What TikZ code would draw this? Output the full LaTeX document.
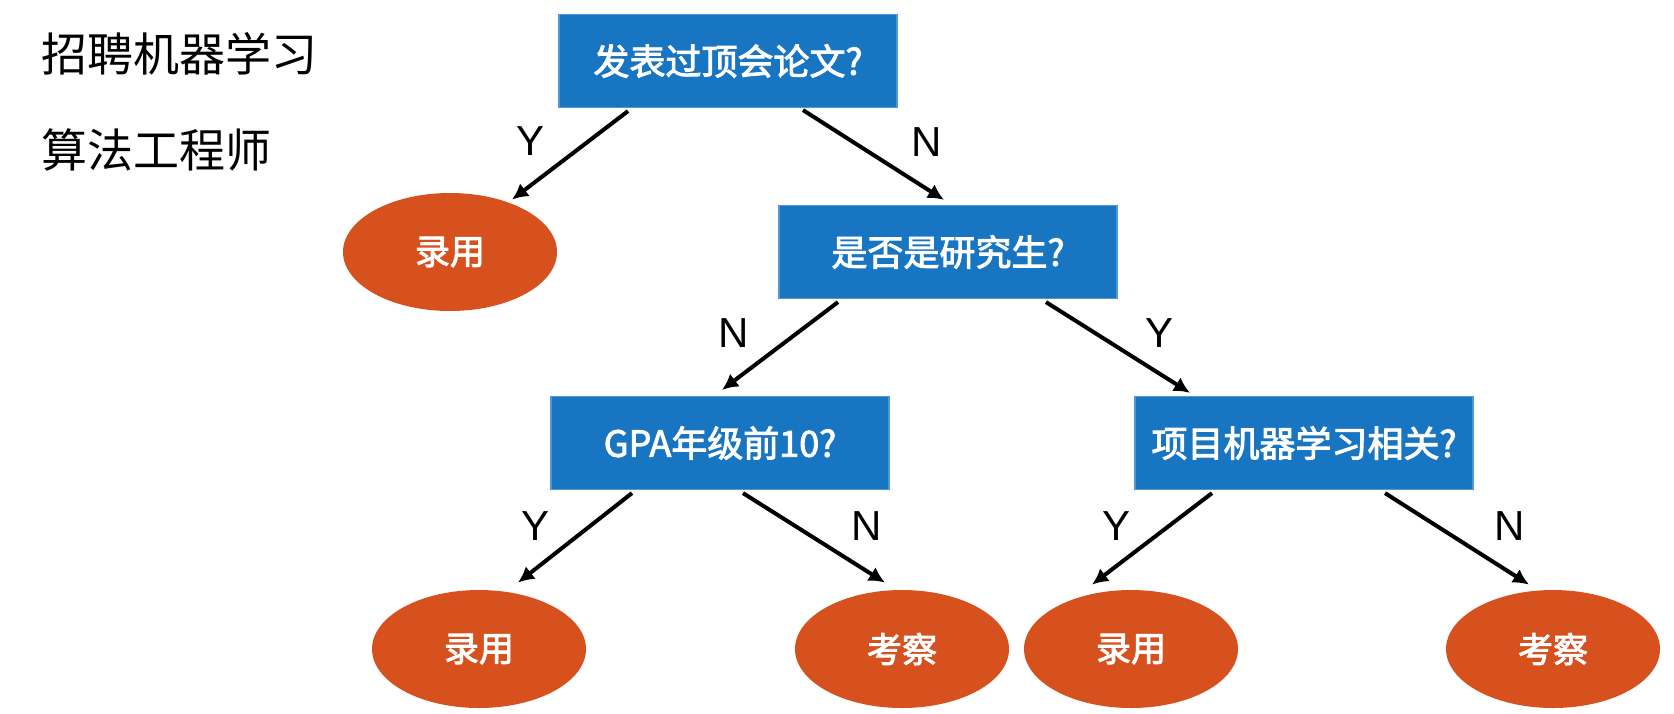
\documentclass[tikz,border=0pt]{standalone}
\usepackage{fontspec}
\setmainfont{Noto Sans CJK SC}
\newfontfamily\boxfont[FakeBold=2.5]{Noto Sans CJK SC}
\newfontfamily\latinfont{Liberation Sans}
\usetikzlibrary{shapes.geometric}
\usetikzlibrary{arrows.meta}
\definecolor{boxblue}{RGB}{24,117,194}
\definecolor{leaforange}{RGB}{215,81,31}

\begin{document}
\begin{tikzpicture}[x=0.5pt,y=-0.5pt,
  question/.style={rectangle, fill=boxblue, draw=boxblue!75!white, line width=0.6pt, minimum width=169pt, minimum height=46.5pt, inner sep=0pt, text=white, font=\boxfont\fontsize{18}{18}\selectfont},
  leaf/.style={ellipse, fill=leaforange, minimum width=107pt, minimum height=59pt, inner sep=0pt, text=white, font=\boxfont\fontsize{17.5}{17.5}\selectfont},
  arr/.style={-{Latex[length=8pt,width=8pt]}, line width=2pt},
  yn/.style={font=\latinfont\fontsize{21}{21}\selectfont, inner sep=0pt}]
\useasboundingbox (0,0) rectangle (1674,713);

% Text Node
\node [anchor=west, inner sep=0pt, font=\fontsize{23}{23}\selectfont] (title1) at (41,54) {招聘机器学习};
% Text Node
\node [anchor=west, inner sep=0pt, font=\fontsize{23}{23}\selectfont] (title2) at (41,150) {算法工程师};

%Shape: Rectangle
\node [question] (paper) at (728,61) {发表过顶会论文?};
\node [question] (grad) at (948,252) {是否是研究生?};
\node [question] (gpa) at (720,443) {GPA年级前10?};
\node [question] (proj) at (1304,443) {项目机器学习相关?};

%Shape: Ellipse
\node [leaf] (hireA) at (450,252) {录用};
\node [leaf] (hireB) at (479,649) {录用};
\node [leaf] (checkB) at (902,649) {考察};
\node [leaf] (hireC) at (1131,649) {录用};
\node [leaf] (checkC) at (1553,649) {考察};

%Straight Lines
\draw [arr] ([xshift=-50pt,yshift=-1.5pt]paper.south) -- ([xshift=31pt,yshift=-3.5pt]hireA.north)
  node [yn, midway, xshift=-20pt, yshift=7pt] (l1) {Y};
\draw [arr] ([xshift=37.5pt,yshift=-1pt]paper.south) -- ([xshift=-2pt,yshift=2.5pt]grad.north)
  node [yn, midway, xshift=26.75pt, yshift=6.5pt] (l2) {N};
\draw [arr] ([xshift=-55pt,yshift=-1.5pt]grad.south) -- ([xshift=1pt,yshift=3pt]gpa.north)
  node [yn, midway, xshift=-23pt, yshift=6.25pt] (l3) {N};
\draw [arr] ([xshift=49pt,yshift=-1.5pt]grad.south) -- ([xshift=-57pt,yshift=1.5pt]proj.north)
  node [yn, midway, xshift=20.5pt, yshift=7pt] (l4) {Y};
\draw [arr] ([xshift=-44pt,yshift=-1.5pt]gpa.south) -- ([xshift=19.5pt,yshift=3.5pt]hireB.north)
  node [yn, midway, xshift=-19.75pt, yshift=6pt] (l5) {Y};
\draw [arr] ([xshift=11.5pt,yshift=-1.5pt]gpa.south) -- ([xshift=-8.5pt,yshift=3.5pt]checkB.north)
  node [yn, midway, xshift=26.5pt, yshift=6pt] (l6) {N};
\draw [arr] ([xshift=-46pt,yshift=-1.5pt]proj.south) -- ([xshift=-19.5pt,yshift=2.5pt]hireC.north)
  node [yn, midway, xshift=-18pt, yshift=6.5pt] (l7) {Y};
\draw [arr] ([xshift=40.5pt,yshift=-1.5pt]proj.south) -- ([xshift=-12pt,yshift=2.5pt]checkC.north)
  node [yn, midway, xshift=26.5pt, yshift=6.5pt] (l8) {N};

\end{tikzpicture}
\end{document}
